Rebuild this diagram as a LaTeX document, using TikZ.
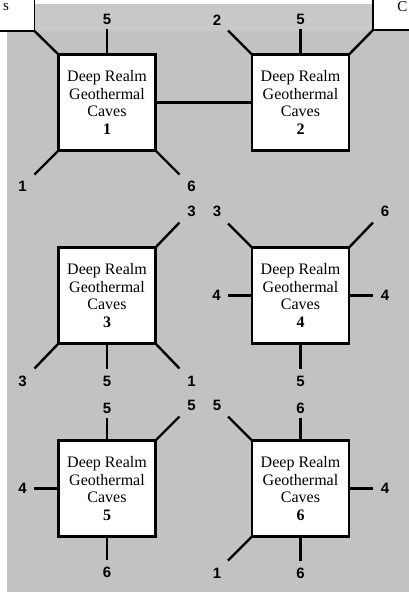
\documentclass[tikz,border=0pt]{standalone}
\usepackage{fontspec}
\setmainfont{Liberation Serif}
\newfontfamily\lblfont{Liberation Sans}
\usetikzlibrary{calc}
\definecolor{stipple}{gray}{0.76}
\definecolor{stippletop}{gray}{0.79}
\tikzset{
  cave/.style={draw, fill=white, line width=2.4pt, outer sep=0pt,
    minimum width=97pt, minimum height=96pt, inner sep=0pt,
    align=center, font=\fontsize{16}{17.7}\selectfont},
  link/.style={line width=2.4pt},
  lbl/.style={font=\lblfont\bfseries\fontsize{15}{15}\selectfont, inner sep=0pt},
  edgetxt/.style={font=\fontsize{15}{17}\selectfont, inner sep=0.5pt},
}
\begin{document}
\begin{tikzpicture}[x=1pt, y=-1pt]
\useasboundingbox (0,0) rectangle (409,592);
\fill[white] (0,0) rectangle (409,592);
% stippled ground
\fill[stipple] (7,31) rectangle (409,592);
\fill[stippletop] (34.5,4) rectangle (373,31);
% neighbouring boxes at the top edge
\coordinate (tl) at (34.5,31);
\coordinate (tr) at (373,30);
\draw[line width=1.8pt] (0,31) -- (tl) -- (34.5,0);
\draw[line width=1.8pt] (409,30) -- (tr) -- (373,0);
\node[edgetxt, anchor=north west] (ts) at (2.5,2.5) {s};
\node[edgetxt, anchor=north east] (tc) at (408,1) {C};
% the six caves
\node[cave] (b1) at (107,102.5) {Deep Realm\\Geothermal\\Caves\\\textbf{1}};
\node[cave] (b2) at (300.5,102.5) {Deep Realm\\Geothermal\\Caves\\\textbf{2}};
\node[cave] (b3) at (107,295.5) {Deep Realm\\Geothermal\\Caves\\\textbf{3}};
\node[cave] (b4) at (300.5,295.5) {Deep Realm\\Geothermal\\Caves\\\textbf{4}};
\node[cave] (b5) at (107,488.5) {Deep Realm\\Geothermal\\Caves\\\textbf{5}};
\node[cave] (b6) at (300.5,488.5) {Deep Realm\\Geothermal\\Caves\\\textbf{6}};
% passages
\draw[link] (b1.east) -- (b2.west);
\draw[link] (b1.north west) -- (tl);
\draw[link] (b2.north east) -- (tr);
% open passages with their destination numbers
% anchor / stub vector / label offset / label text
\foreach \b/\a/\dx/\dy/\lx/\ly/\t [count=\i] in {
  b1/north/0/-26/0/-9/5,
  b1/south west/-24/24/-12/12/1,
  b1/south east/24/24/12/12/6,
  b2/north west/-24/-24/-11/-10/2,
  b2/north/0/-26/0/-9/5,
  b3/north east/24/-25/12/-11/3,
  b3/south west/-24/25/-12/13/3,
  b3/south/0/25/0/13/5,
  b3/south east/24/25/12/13/1,
  b4/north west/-24/-24/-11/-12/3,
  b4/north east/24/-25/12/-11/6,
  b4/west/-24/0/-11.5/0/4,
  b4/east/24/0/12/0/4,
  b4/south/0/25/0/13/5,
  b5/north/0/-23/0/-9/5,
  b5/north east/24/-24/12/-11/5,
  b5/west/-25/0/-11/0/4,
  b5/south/0/23/0/13/6,
  b6/north west/-24/-24/-11/-11/5,
  b6/north/0/-23/0/-9/6,
  b6/east/24/0/12/0/4,
  b6/south west/-24/24/-11/13/1,
  b6/south/0/24/0/13/6}
{
  \coordinate (e\i) at ($(\b.\a)+(\dx,\dy)$);
  \draw[link] (\b.\a) -- (e\i);
  \node[lbl] (n\i) at ($(e\i)+(\lx,\ly)$) {\t};
}
\end{tikzpicture}
\end{document}
